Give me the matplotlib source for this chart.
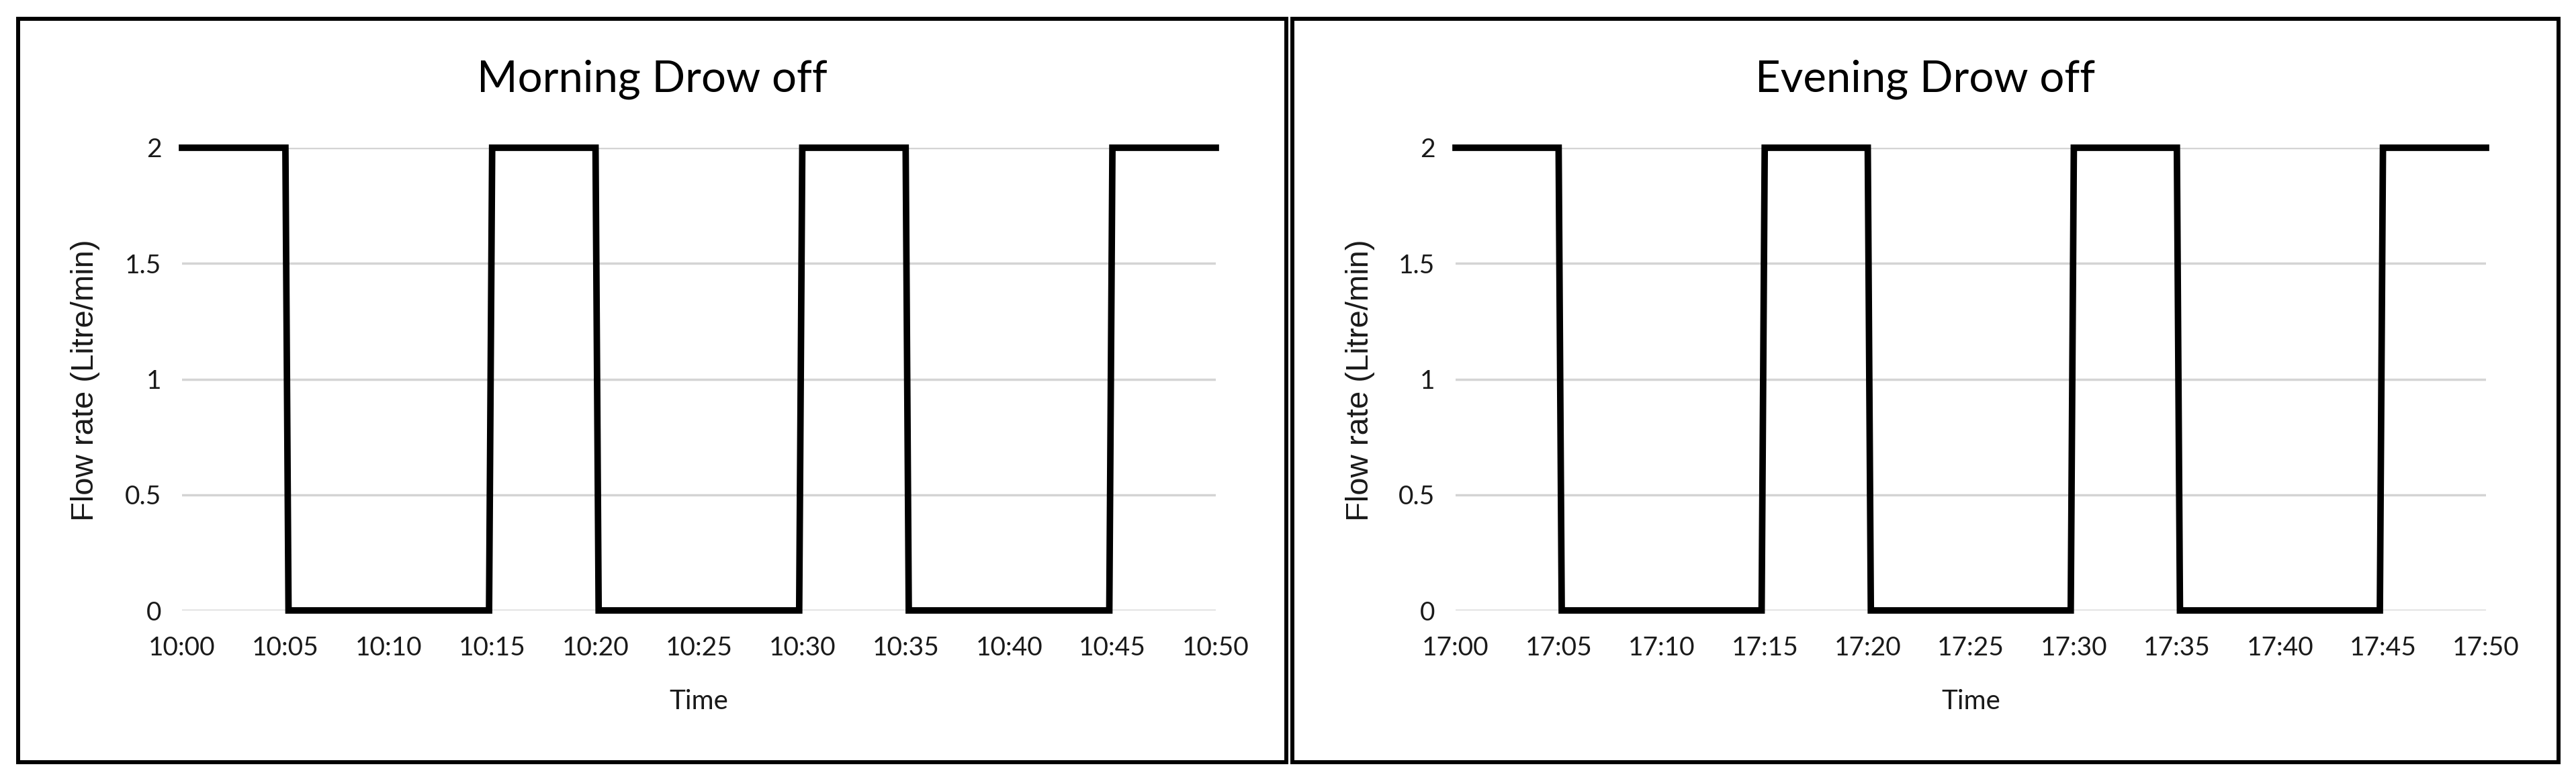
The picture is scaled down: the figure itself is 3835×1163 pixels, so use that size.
import matplotlib
matplotlib.use("Agg")
import matplotlib.pyplot as plt
from matplotlib.patches import Rectangle
from matplotlib.ticker import FixedLocator, FixedFormatter

# minutes after the start hour, and flow rate (Litre/min)
morning_min = [0, 5, 5.15, 14.85, 15, 20, 20.15, 29.85, 30, 35, 35.15, 44.85, 45, 50]
morning_flow = [2, 2, 0, 0, 2, 2, 0, 0, 2, 2, 0, 0, 2, 2]
evening_min = [0, 5, 5.15, 14.85, 15, 20, 20.15, 29.85, 30, 35, 35.15, 44.85, 45, 50]
evening_flow = [2, 2, 0, 0, 2, 2, 0, 0, 2, 2, 0, 0, 2, 2]

tick_min = [0, 5, 10, 15, 20, 25, 30, 35, 40, 45, 50]
morning_labels = ["10:00", "10:05", "10:10", "10:15", "10:20", "10:25",
                  "10:30", "10:35", "10:40", "10:45", "10:50"]
evening_labels = ["17:00", "17:05", "17:10", "17:15", "17:20", "17:25",
                  "17:30", "17:35", "17:40", "17:45", "17:50"]
y_ticks = [0, 0.5, 1, 1.5, 2]
y_labels = ["0", "0.5", "1", "1.5", "2"]

NARROW = ["Lato", "DejaVu Sans"]
WIDE = ["Liberation Sans", "DejaVu Sans"]

W, H = 3835, 1163
fig = plt.figure(figsize=(W / 100, H / 100), dpi=100)


def fx(px):
    return px / W


def fy(py):
    return 1 - py / H


def panel(x0, x1, box, xs, ys, xlabels, title, ylab_x):
    ax = fig.add_axes([fx(x0), fy(909), fx(x1 - x0), fy(220) - fy(909)])
    ax.plot(xs, ys, color="black", lw=7, solid_joinstyle="miter", clip_on=False, zorder=3)
    ax.set_xlim(0, 50)
    ax.set_ylim(0, 2)
    ax.xaxis.set_major_locator(FixedLocator(tick_min))
    ax.xaxis.set_major_formatter(FixedFormatter(xlabels))
    ax.yaxis.set_major_locator(FixedLocator(y_ticks))
    ax.yaxis.set_major_formatter(FixedFormatter(y_labels))
    ax.grid(axis="y", color="#d4d4d4", lw=2.5)
    ax.set_axisbelow(True)
    for s in ax.spines.values():
        s.set_visible(False)
    ax.tick_params(length=0, labelsize=28, colors="#1a1a1a")
    ax.tick_params(axis="x", pad=27)
    ax.tick_params(axis="y", pad=22)
    for t in ax.get_xticklabels() + ax.get_yticklabels():
        t.set_family(NARROW)

    bx0, bx1 = box
    fig.text(fx((bx0 + bx1) / 2), fy(118), title, ha="center", va="center",
             fontsize=47, family=NARROW, color="black")
    fig.text(fx((x0 + x1) / 2), fy(1045), "Time", ha="center", va="center",
             fontsize=29, family=NARROW, color="#1a1a1a")
    fig.text(fx(ylab_x), fy(566), "Flow rate (Litre/min)", ha="center", va="center",
             rotation=90, fontsize=34, family=WIDE, color="#1a1a1a")
    fig.patches.append(Rectangle((fx(bx0), fy(1135)), fx(bx1 - bx0), fy(28) - fy(1135),
                                 transform=fig.transFigure, fill=False,
                                 edgecolor="black", lw=4.3))
    return ax


panel(271, 1810, (27, 1915), morning_min, morning_flow, morning_labels,
      "Morning Drow off", 127)
panel(2167, 3701, (1924, 3809), evening_min, evening_flow, evening_labels,
      "Evening Drow off", 2025)

fig.savefig("out.png", dpi=100, facecolor="white")
